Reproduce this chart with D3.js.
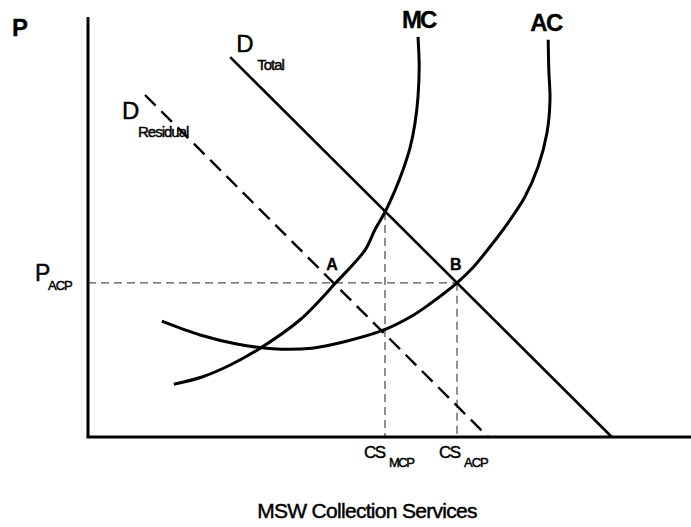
<!DOCTYPE html>
<html>
<head>
<meta charset="utf-8">
<script src="https://cdn.jsdelivr.net/npm/d3@7"></script>
<style>
  body { margin: 0; background: #fff; }
  svg { display: block; }
  text { font-family: "Liberation Sans", Arial, sans-serif; fill: #000; }
</style>
</head>
<body>
<script>
// chart values (quantity, price)
var mcQ = [14.3, 19.0, 23.7, 28.7, 35.3, 41.3, 46.2, 47.8, 49.5, 51.2, 52.5, 53.7, 54.5, 55.0, 55.2, 55.0];
var mcP = [8.8, 10.0, 12.0, 14.8, 19.5, 25.7, 31.2, 34.5, 37.5, 41.2, 44.5, 48.3, 52.3, 56.7, 61.7, 66.7];

var acQ = [12.3, 18.7, 24.8, 30.8, 37.3, 43.2, 49.2, 54.2, 57.0, 61.5, 64.2, 67.0, 70.0, 72.8, 75.0, 76.5, 77.0, 76.8, 76.7];
var acP = [19.3, 17.0, 15.5, 14.7, 14.8, 16.0, 17.8, 20.3, 22.2, 25.7, 28.3, 31.7, 35.7, 40.0, 45.0, 50.7, 56.2, 61.2, 66.2];

var dTotalQ = [23.7, 87.3];
var dTotalP = [63.3, 0];
var dResidQ = [9.5, 66.7];
var dResidP = [57.0, 0];

var pACP = 25.7;   // price where AC meets D total
var qA = 41.2;     // A: MC meets D residual
var qMCP = 49.5;   // CS_MCP: MC meets D total
var qACP = 61.5;   // CS_ACP: AC meets D total
var pMCP = 37.5;

var W = 691, H = 527;
var x0 = 88, yTop = 17, yBase = 437;

var x = d3.scaleLinear().domain([0, 100]).range([x0, x0 + 600]);
var y = d3.scaleLinear().domain([0, 70]).range([yBase, yBase - 420]);

var svg = d3.select("body").append("svg")
    .attr("width", W).attr("height", H);

function zipped(qs, ps) { return qs.map((q, i) => [q, ps[i]]); }

var smooth = d3.line()
    .x(d => x(d[0])).y(d => y(d[1]))
    .curve(d3.curveCatmullRom.alpha(0.5));
var straight = d3.line().x(d => x(d[0])).y(d => y(d[1]));

// gray dashed guides
var guides = svg.append("g")
    .attr("stroke", "#555").attr("stroke-width", 1.3)
    .attr("stroke-dasharray", "8,5").attr("fill", "none");
guides.append("path").attr("d", straight([[0, pACP], [qACP, pACP]]));
guides.append("path").attr("d", straight([[qMCP, pMCP], [qMCP, 0]]));
guides.append("path").attr("d", straight([[qACP, pACP], [qACP, 0]]));

// axes
svg.append("line")
    .attr("x1", x(0)).attr("x2", x(0)).attr("y1", yTop).attr("y2", y(0))
    .attr("stroke", "#000").attr("stroke-width", 3);
svg.append("line")
    .attr("x1", x(0) - 1.5).attr("x2", W).attr("y1", y(0)).attr("y2", y(0))
    .attr("stroke", "#000").attr("stroke-width", 3);

// demand curves
svg.append("path").attr("d", straight(zipped(dTotalQ, dTotalP)))
    .attr("fill", "none").attr("stroke", "#000").attr("stroke-width", 2.6);
svg.append("path").attr("d", straight(zipped(dResidQ, dResidP)))
    .attr("fill", "none").attr("stroke", "#000").attr("stroke-width", 2.4)
    .attr("stroke-dasharray", "15,8");

// cost curves
svg.append("path").attr("d", smooth(zipped(mcQ, mcP)))
    .attr("fill", "none").attr("stroke", "#000").attr("stroke-width", 3);
svg.append("path").attr("d", smooth(zipped(acQ, acP)))
    .attr("fill", "none").attr("stroke", "#000").attr("stroke-width", 3);

// labels
function label(tx, ty, str, size, opts) {
  opts = opts || {};
  var t = svg.append("text")
      .attr("x", tx).attr("y", ty)
      .attr("font-size", size)
      .attr("letter-spacing", opts.ls != null ? opts.ls : -1)
      .attr("font-weight", opts.bold ? "bold" : "normal")
      .attr("stroke", "#000").attr("stroke-width", opts.bold ? 0.3 : 0.45)
      .text(str);
  if (opts.anchor) t.attr("text-anchor", opts.anchor);
  return t;
}

label(12, 36, "P", 24, {bold: true, ls: 0});
label(x(mcQ[mcQ.length - 1]) - 16, 28, "MC", 24, {bold: true, ls: -2});
label(x(acQ[acQ.length - 1]) - 18, 31, "AC", 24, {bold: true, ls: -1.5});

label(x(dTotalQ[0]) + 6, 52, "D", 24, {ls: 0});
label(x(dTotalQ[0]) + 27, 70, "Total", 15, {ls: -1});
label(x(dResidQ[0]) - 23, 119, "D", 24, {ls: 0});
label(x(dResidQ[0]) - 7, 137, "Residual", 15, {ls: -1});

label(35, y(pACP) - 2, "P", 23, {ls: 0});
label(48, y(pACP) + 7, "ACP", 13, {ls: -1});

label(x(qA) - 9, y(pACP) - 13, "A", 16, {bold: true, ls: 0});
label(x(qACP) - 7, y(pACP) - 13, "B", 16, {bold: true, ls: 0});

label(x(qMCP) - 21, 458, "CS", 17, {ls: -1.5});
label(x(qMCP) + 4, 467, "MCP", 13, {ls: -1.5});
label(x(qACP) - 18, 458, "CS", 17, {ls: -1.5});
label(x(qACP) + 7, 467, "ACP", 13, {ls: -1});

label(367, 518, "MSW Collection Services", 21, {ls: -0.7, anchor: "middle"});
</script>
</body>
</html>
